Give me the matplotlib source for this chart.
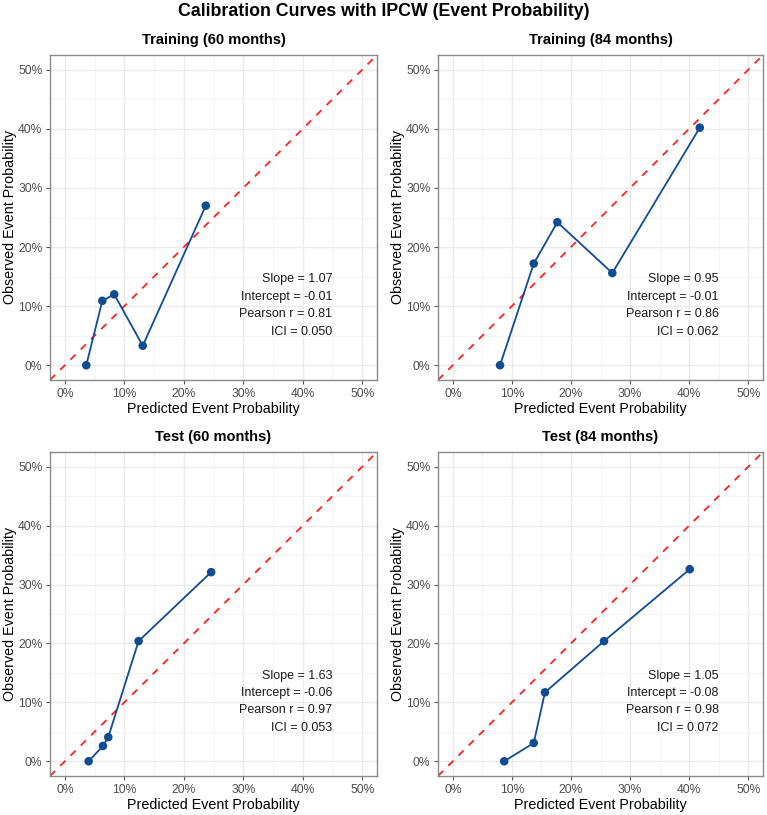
import matplotlib
matplotlib.use("Agg")
import matplotlib.pyplot as plt
from matplotlib.ticker import MultipleLocator, FuncFormatter

plt.rcParams['font.family'] = ['Liberation Sans', 'DejaVu Sans']

titles = ["Training (60 months)", "Training (84 months)", "Test (60 months)", "Test (84 months)"]
pred = [
    [0.036, 0.063, 0.083, 0.131, 0.237],
    [0.080, 0.137, 0.177, 0.270, 0.418],
    [0.040, 0.064, 0.073, 0.124, 0.246],
    [0.087, 0.137, 0.156, 0.256, 0.401],
]
obs = [
    [0.000, 0.109, 0.120, 0.033, 0.270],
    [0.000, 0.172, 0.242, 0.156, 0.402],
    [0.000, 0.026, 0.041, 0.204, 0.321],
    [0.000, 0.031, 0.117, 0.204, 0.326],
]
slopes = ["1.07", "0.95", "1.63", "1.05"]
intercepts = ["-0.01", "-0.01", "-0.06", "-0.08"]
pearson = ["0.81", "0.86", "0.97", "0.98"]
ici = ["0.050", "0.062", "0.053", "0.072"]

W, H = 767, 815
fig = plt.figure(figsize=(W / 100, H / 100), dpi=100)

# axes rectangles in pixels: left, top, right, bottom
rects = [(50, 55, 377, 380), (438, 55, 763, 380), (50, 452, 377, 776), (438, 452, 763, 776)]

blue = "#0F4C92"
pct = FuncFormatter(lambda v, p: f"{v*100:.0f}%")

for i, (l, t, r, b) in enumerate(rects):
    ax = fig.add_axes([l / W, 1 - b / H, (r - l) / W, (b - t) / H])
    ax.set_xlim(-0.025, 0.525)
    ax.set_ylim(-0.025, 0.525)
    ax.xaxis.set_major_locator(MultipleLocator(0.1))
    ax.yaxis.set_major_locator(MultipleLocator(0.1))
    ax.xaxis.set_minor_locator(MultipleLocator(0.05))
    ax.yaxis.set_minor_locator(MultipleLocator(0.05))
    ax.xaxis.set_major_formatter(pct)
    ax.yaxis.set_major_formatter(pct)
    ax.grid(which="major", color="#EBEBEB", linewidth=1.0)
    ax.grid(which="minor", color="#F3F3F3", linewidth=0.6)
    ax.set_axisbelow(True)
    for s in ax.spines.values():
        s.set_color("#8A8A8A")
        s.set_linewidth(1.0)
    ax.tick_params(which="major", length=3, color="#555555", labelsize=8.7, labelcolor="#4D4D4D", pad=2.5)
    ax.tick_params(which="minor", length=0)
    ax.plot([-0.025, 0.525], [-0.025, 0.525], color="#FF2020", linestyle=(0, (4, 4)), linewidth=1.3, zorder=2)
    ax.plot(pred[i], obs[i], color=blue, linewidth=1.3, zorder=3)
    ax.scatter(pred[i], obs[i], color=blue, s=38, zorder=4, edgecolors="none")
    ax.set_xlabel("Predicted Event Probability", fontsize=10.3, labelpad=2)
    ax.set_ylabel("Observed Event Probability", fontsize=10.3, labelpad=1)
    ax.set_title(titles[i], fontsize=10.5, fontweight="bold", pad=8)
    txt = (f"Slope = {slopes[i]}\nIntercept = {intercepts[i]}\n"
           f"Pearson r = {pearson[i]}\nICI = {ici[i]}")
    ax.text(0.45, 0.101, txt, ha="right", va="center", fontsize=9, linespacing=1.6, color="#1A1A1A")

fig.suptitle("Calibration Curves with IPCW (Event Probability)", fontsize=12.8, fontweight="bold", y=1 - 12 / H, va="center")
fig.savefig("out.png", dpi=100)
